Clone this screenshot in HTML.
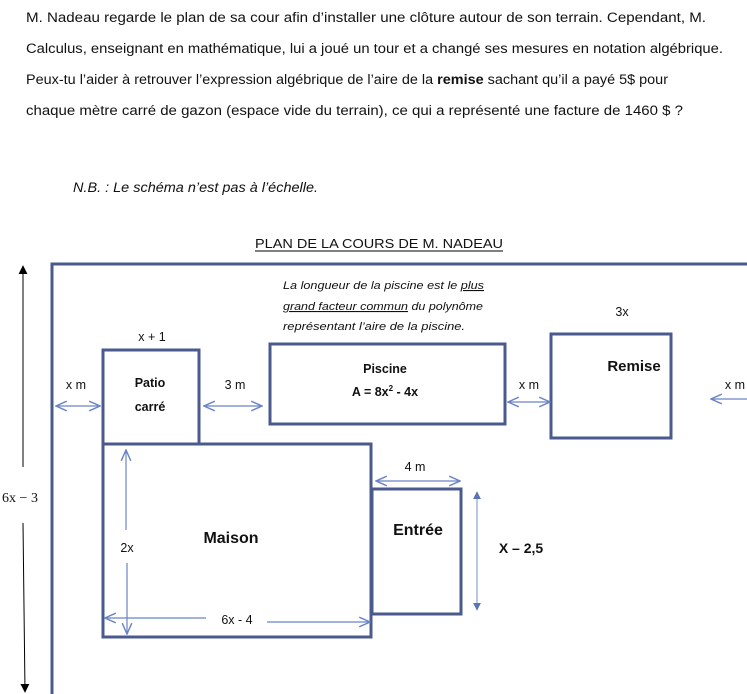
<!DOCTYPE html>
<html><head><meta charset="utf-8"><style>
html,body{margin:0;padding:0;background:#fff;}
svg{display:block;}
text{font-family:"Liberation Sans",sans-serif;fill:#111;}
</style></head><body>
<svg width="747" height="694" viewBox="0 0 747 694" xmlns="http://www.w3.org/2000/svg">
<defs>
<marker id="oa" viewBox="0 0 10 10" refX="9" refY="5" markerWidth="12" markerHeight="12" markerUnits="userSpaceOnUse" orient="auto-start-reverse"><path d="M0,1 L9,5 L0,9" fill="none" stroke="#6a84c4" stroke-width="1.2"/></marker>
<marker id="fa" viewBox="0 0 10 10" refX="9" refY="5" markerWidth="8" markerHeight="8" markerUnits="userSpaceOnUse" orient="auto-start-reverse"><path d="M0,0 L10,5 L0,10z" fill="#5a74b4"/></marker>
<marker id="ka" viewBox="0 0 10 10" refX="9" refY="5" markerWidth="9" markerHeight="9" markerUnits="userSpaceOnUse" orient="auto"><path d="M0,0 L10,5 L0,10z" fill="#000"/></marker>
</defs>
<g font-size="13.5">
<text x="26" y="22" textLength="680" lengthAdjust="spacingAndGlyphs">M. Nadeau regarde le plan de sa cour afin d’installer une clôture autour de son terrain.  Cependant, M.</text>
<text x="26" y="53" textLength="697" lengthAdjust="spacingAndGlyphs">Calculus, enseignant en mathématique, lui a joué un tour et a changé ses mesures en notation algébrique.</text>
<text x="26" y="84" textLength="642" lengthAdjust="spacingAndGlyphs">Peux-tu l’aider à retrouver l’expression algébrique de l’aire de la <tspan font-weight="bold">remise</tspan> sachant qu’il a payé 5$ pour</text>
<text x="26" y="115" textLength="657" lengthAdjust="spacingAndGlyphs">chaque mètre carré de gazon (espace vide du terrain), ce qui a représenté une facture de 1460 $ ?</text>
<text x="73" y="192" font-style="italic" textLength="245" lengthAdjust="spacingAndGlyphs">N.B. : Le schéma n’est pas à l’échelle.</text>
</g>
<text x="255" y="248" font-size="13" textLength="248" lengthAdjust="spacingAndGlyphs">PLAN DE LA COURS DE M. NADEAU</text>
<line x1="255" y1="251" x2="503" y2="251" stroke="#000" stroke-width="1"/>
<path d="M52,700 L52,264 L760,264" fill="none" stroke="#4a5a8c" stroke-width="3"/>
<line x1="23" y1="467" x2="23" y2="266" stroke="#000" stroke-width="1" marker-end="url(#ka)"/>
<line x1="23" y1="523" x2="25" y2="692" stroke="#000" stroke-width="1" marker-end="url(#ka)"/>
<text x="20" y="502" font-size="14" text-anchor="middle" style="font-family:'Liberation Serif',serif">6x − 3</text>
<g font-size="11" font-style="italic">
<text x="283" y="289" textLength="201" lengthAdjust="spacingAndGlyphs">La longueur de la piscine est le <tspan text-decoration="underline">plus</tspan></text>
<text x="283" y="310" textLength="200" lengthAdjust="spacingAndGlyphs"><tspan text-decoration="underline">grand facteur commun</tspan> du polynôme</text>
<text x="283" y="330" textLength="182" lengthAdjust="spacingAndGlyphs">représentant l’aire de la piscine.</text>
</g>
<g fill="none" stroke="#4a5a8c" stroke-width="3">
<rect x="103" y="350" width="96" height="94"/>
<rect x="270" y="344" width="235" height="80"/>
<rect x="551" y="334" width="120" height="104"/>
<rect x="103" y="444" width="268" height="193"/>
<rect x="372" y="489" width="89" height="125"/>
</g>
<g stroke="#6a84c4" stroke-width="1.2" fill="none">
<line x1="56" y1="406" x2="100" y2="406" marker-start="url(#oa)" marker-end="url(#oa)"/>
<line x1="204" y1="406" x2="262" y2="406" marker-start="url(#oa)" marker-end="url(#oa)"/>
<line x1="508" y1="402" x2="550" y2="402" marker-start="url(#oa)" marker-end="url(#oa)"/>
<line x1="711" y1="399" x2="760" y2="399" marker-start="url(#oa)"/>
<line x1="126" y1="530" x2="126" y2="450" marker-end="url(#oa)"/>
<line x1="127" y1="563" x2="127" y2="634" marker-end="url(#oa)"/>
<line x1="105" y1="618" x2="206" y2="618" marker-start="url(#oa)"/>
<line x1="267" y1="622" x2="370" y2="622" marker-end="url(#oa)"/>
<line x1="376" y1="481" x2="460" y2="481" marker-start="url(#oa)" marker-end="url(#oa)"/>
</g>
<line x1="477" y1="492" x2="477" y2="610" stroke="#8aa0d4" stroke-width="1.2" marker-start="url(#fa)" marker-end="url(#fa)"/>
<g font-size="12.5" text-anchor="middle">
<text x="152" y="341">x + 1</text>
<text x="622" y="316">3x</text>
<text x="76" y="389">x m</text>
<text x="235" y="389">3 m</text>
<text x="529" y="389">x m</text>
<text x="735" y="389">x m</text>
<text x="415" y="471">4 m</text>
<text x="127" y="552">2x</text>
<text x="237" y="624">6x - 4</text>
</g>
<g font-size="12.5" font-weight="bold" text-anchor="middle">
<text x="150" y="387">Patio</text>
<text x="150" y="411">carré</text>
<text x="385" y="373">Piscine</text>
<text x="385" y="396">A = 8x<tspan font-size="8" dy="-5">2</tspan><tspan dy="5"> - 4x</tspan></text>
</g>
<g font-weight="bold" text-anchor="middle">
<text x="634" y="371" font-size="15">Remise</text>
<text x="231" y="543" font-size="16">Maison</text>
<text x="418" y="535" font-size="16">Entrée</text>
<text x="521" y="553" font-size="14">X – 2,5</text>
</g>
</svg>
</body></html>
